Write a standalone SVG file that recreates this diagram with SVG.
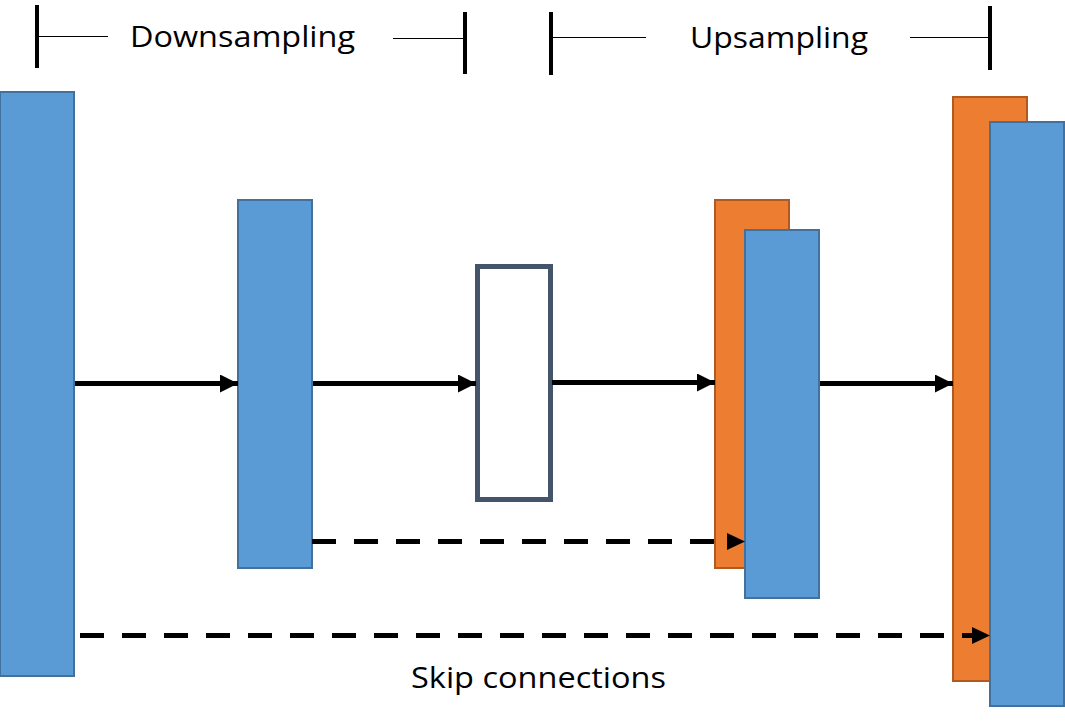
<svg xmlns="http://www.w3.org/2000/svg" width="1065" height="721" viewBox="0 0 1065 721">
<defs>
<style>
.blue{fill:#5B9BD5;stroke:#41719C;stroke-width:2}
.orange{fill:#ED7D31;stroke:#AE5A21;stroke-width:2}
.hollow{fill:#FFFFFF;stroke:#44546A;stroke-width:5}
.bar{stroke:#000;stroke-width:4;fill:none}
.thin{stroke:#000;stroke-width:1;fill:none}
.arrow{stroke:#000;stroke-width:5;fill:none}
.dash{stroke:#000;stroke-width:5;fill:none;stroke-dasharray:24 18}
.lbl{font-family:"Open Sans","Liberation Sans",sans-serif;font-size:30px;fill:#000}
</style>
<marker id="ah" markerUnits="userSpaceOnUse" markerWidth="18" markerHeight="18" refX="18" refY="9" orient="auto" viewBox="0 0 18 18">
<path d="M0,0 L18,9 L0,18 Z" fill="#000"/>
</marker>
</defs>
<rect width="1065" height="721" fill="#FFFFFF"/>
<g id="header-down">
<line class="bar" x1="37" y1="5" x2="37" y2="68"/>
<line class="thin" x1="38" y1="36.5" x2="108" y2="36.5"/>
<text class="lbl" x="130" y="47" textLength="225" lengthAdjust="spacingAndGlyphs">Downsampling</text>
<line class="thin" x1="393" y1="38.5" x2="465" y2="38.5"/>
<line class="bar" x1="465" y1="12" x2="465" y2="74"/>
</g>
<g id="header-up">
<line class="bar" x1="551" y1="12" x2="551" y2="75"/>
<line class="thin" x1="551" y1="37.5" x2="646" y2="37.5"/>
<text class="lbl" x="690" y="48" textLength="178" lengthAdjust="spacingAndGlyphs">Upsampling</text>
<line class="thin" x1="910" y1="37.5" x2="990" y2="37.5"/>
<line class="bar" x1="990" y1="6" x2="990" y2="70"/>
</g>
<g id="enc1"><rect class="blue" x="0" y="92" width="74" height="584"/></g>
<g id="enc2"><rect class="blue" x="238" y="200" width="74" height="368"/></g>
<g id="bottleneck"><rect class="hollow" x="477.5" y="266.5" width="73" height="233"/></g>
<g id="dec1">
<rect class="orange" x="715" y="200" width="74" height="368"/>
<rect class="blue" x="745" y="230" width="74" height="368"/>
</g>
<g id="dec2">
<rect class="orange" x="953" y="97" width="74" height="584"/>
<rect class="blue" x="990" y="122" width="74" height="584"/>
</g>
<g id="connectors">
<line class="arrow" x1="75" y1="383.5" x2="238" y2="383.5" marker-end="url(#ah)"/>
<line class="arrow" x1="313" y1="383.5" x2="476" y2="383.5" marker-end="url(#ah)"/>
<line class="arrow" x1="552" y1="382.5" x2="715" y2="382.5" marker-end="url(#ah)"/>
<line class="arrow" x1="820" y1="383.5" x2="953" y2="383.5" marker-end="url(#ah)"/>
<line class="dash" x1="312" y1="541.5" x2="728" y2="541.5"/>
<path d="M727,533 L745,541.5 L727,550 Z" fill="#000"/>
<line class="dash" x1="80" y1="635.5" x2="972" y2="635.5"/>
<path d="M972,627 L990,635.5 L972,644 Z" fill="#000"/>
</g>
<g id="skip-label">
<text class="lbl" x="411" y="688" textLength="255" lengthAdjust="spacingAndGlyphs">Skip connections</text>
</g>
</svg>
